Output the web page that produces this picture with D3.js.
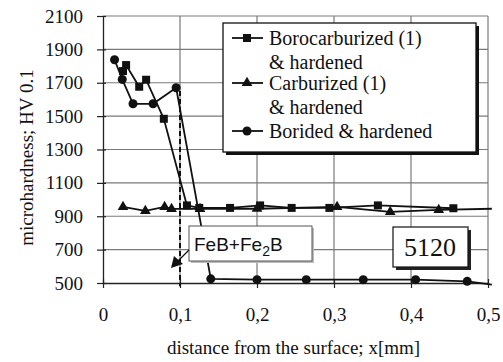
<!DOCTYPE html>
<html>
<head>
<meta charset="utf-8">
<script src="https://cdn.jsdelivr.net/npm/d3@7"></script>
<style>
  body { margin: 0; background: #fff; }
  svg text { font-family: "Liberation Serif", "Times New Roman", serif; fill: #111; }
</style>
</head>
<body>
<main></main>
<script>
// values
const xTicks = [0, 0.1, 0.2, 0.3, 0.4, 0.5];
const yTicks = [500, 700, 900, 1100, 1300, 1500, 1700, 1900, 2100];

const boroX = [0.026, 0.030, 0.047, 0.056, 0.079, 0.109, 0.125, 0.165, 0.204, 0.245, 0.294, 0.357, 0.455];
const boroY = [1770, 1806, 1676, 1718, 1484, 965, 950, 950, 965, 950, 950, 965, 948];

const carbX = [0.026, 0.055, 0.080, 0.089, 0.126, 0.200, 0.304, 0.373, 0.436, 0.505];
const carbY = [956, 932, 956, 944, 944, 945, 956, 926, 938, 945];

const boridX = [0.015, 0.025, 0.039, 0.065, 0.095, 0.140, 0.200, 0.264, 0.338, 0.406, 0.473, 0.505];
const boridY = [1838, 1720, 1574, 1574, 1670, 525, 520, 520, 520, 520, 510, 490];

const legendLabels = [["Borocarburized (1)", "& hardened"], ["Carburized (1)", "& hardened"], ["Borided & hardened"]];

const size = { width: 503, height: 362 };
const plot = { left: 103, right: 488, top: 16, bottom: 283 };
const serif = '"Liberation Serif", "Times New Roman", serif';

const svg = d3.select('main').append('svg')
    .attr('width', size.width)
    .attr('height', size.height);

const x = d3.scaleLinear().domain([0, 0.5]).range([plot.left, plot.right]);
const y = d3.scaleLinear().domain([500, 2100]).range([plot.bottom, plot.top]);

// grid
svg.append('g').selectAll('line').data(yTicks.slice(1)).enter().append('line')
    .attr('x1', plot.left).attr('x2', plot.right)
    .attr('y1', d => y(d)).attr('y2', d => y(d))
    .attr('stroke', '#7a7a7a').attr('stroke-width', 1.2);
svg.append('g').selectAll('line').data(xTicks.slice(1)).enter().append('line')
    .attr('x1', d => x(d)).attr('x2', d => x(d))
    .attr('y1', plot.top).attr('y2', plot.bottom)
    .attr('stroke', '#7a7a7a').attr('stroke-width', 1.2);

// axes
const fmt = d => d === 0 ? '0' : String(d).replace('.', ',');
const xAxis = svg.append('g')
    .attr('transform', `translate(0,${plot.bottom})`)
    .call(d3.axisBottom(x).tickValues(xTicks).tickFormat(fmt).tickSize(5).tickSizeOuter(0));
xAxis.selectAll('.tick line').attr('y1', -4);
xAxis.selectAll('text').attr('dy', null).attr('y', 38)
    .style('font-size', '19px').style('font-family', serif);

const yAxis = svg.append('g')
    .attr('transform', `translate(${plot.left},0)`)
    .call(d3.axisLeft(y).tickValues(yTicks).tickFormat(d3.format('d'))
        .tickSize(6).tickPadding(14).tickSizeOuter(0));
yAxis.selectAll('.tick line').attr('x1', 3);
yAxis.selectAll('text').style('font-size', '19px').style('font-family', serif);
svg.selectAll('.domain').attr('stroke', '#222').attr('stroke-width', 1.3);
svg.selectAll('.tick line').attr('stroke', '#222').attr('stroke-width', 1.2);

svg.append('text')
    .attr('x', (plot.left + plot.right) / 2 - 2).attr('y', 354)
    .attr('text-anchor', 'middle').style('font-size', '19px')
    .text('distance from the surface; x[mm]');
svg.append('text')
    .attr('transform', `translate(33,${(plot.top + plot.bottom) / 2 + 8}) rotate(-90)`)
    .attr('text-anchor', 'middle').style('font-size', '19px')
    .text('microhardness; HV 0.1');

// dashed boundary at 0.1 mm
svg.append('line')
    .attr('x1', x(0.1)).attr('x2', x(0.1))
    .attr('y1', y(1650)).attr('y2', y(480))
    .attr('stroke', '#111').attr('stroke-width', 2).attr('stroke-dasharray', '5,3');

// series
const series = [
    { xs: boroX, ys: boroY, sym: d3.symbolSquare, s: 64 },
    { xs: carbX, ys: carbY, sym: d3.symbolTriangle, s: 50 },
    { xs: boridX, ys: boridY, sym: d3.symbolCircle, s: 64 }
];
const line = d3.line().x(d => x(d[0])).y(d => y(d[1]));
series.forEach(sr => {
    const pts = sr.xs.map((v, i) => [v, sr.ys[i]]);
    svg.append('path').datum(pts)
        .attr('d', line).attr('fill', 'none')
        .attr('stroke', '#111').attr('stroke-width', 1.8);
    svg.append('g').selectAll('path').data(pts.filter(p => p[0] <= 0.5)).enter().append('path')
        .attr('d', d3.symbol().type(sr.sym).size(sr.s))
        .attr('transform', d => `translate(${x(d[0])},${y(d[1])})`)
        .attr('fill', '#111');
});

// legend
const lg = svg.append('g');
lg.append('rect').attr('x', 226).attr('y', 26).attr('width', 253).attr('height', 129).attr('fill', '#111');
lg.append('rect').attr('x', 223).attr('y', 23).attr('width', 253).attr('height', 129)
    .attr('fill', '#fff').attr('stroke', '#111').attr('stroke-width', 1.3);
const rowY = [38, 83, 131];
series.forEach((sr, i) => {
    lg.append('line').attr('x1', 232).attr('x2', 263).attr('y1', rowY[i]).attr('y2', rowY[i])
        .attr('stroke', '#111').attr('stroke-width', 1.8);
    lg.append('path').attr('d', d3.symbol().type(sr.sym).size(sr.s)())
        .attr('transform', `translate(247,${rowY[i]})`).attr('fill', '#111');
    legendLabels[i].forEach((t, j) => {
        lg.append('text').attr('x', 269).attr('y', rowY[i] + 7 + j * 24)
            .style('font-size', '20px').text(t);
    });
});

// FeB+Fe2B callout
const cb = svg.append('g');
cb.append('rect').attr('x', 191).attr('y', 228).attr('width', 123).attr('height', 35).attr('fill', '#bbb');
cb.append('rect').attr('x', 189).attr('y', 226).attr('width', 123).attr('height', 35)
    .attr('fill', '#fff').attr('stroke', '#555').attr('stroke-width', 1);
const ct = cb.append('text').attr('x', 194).attr('y', 251)
    .style('font-family', '"Liberation Sans", Arial, sans-serif').style('font-size', '19px');
ct.append('tspan').text('FeB+Fe');
ct.append('tspan').attr('dy', 5).style('font-size', '14px').text('2');
ct.append('tspan').attr('dy', -5).text('B');
cb.append('line').attr('x1', 189).attr('y1', 250).attr('x2', 177).attr('y2', 262)
    .attr('stroke', '#111').attr('stroke-width', 1.2);
cb.append('path').attr('d', 'M171,268 L174,256 L183,264 Z').attr('fill', '#111');

// 5120 label
const nb = svg.append('g');
nb.append('rect').attr('x', 396).attr('y', 230).attr('width', 75).attr('height', 40).attr('fill', '#222');
nb.append('rect').attr('x', 393).attr('y', 227).attr('width', 75).attr('height', 40)
    .attr('fill', '#fff').attr('stroke', '#111').attr('stroke-width', 1.2);
nb.append('text').attr('x', 430).attr('y', 256).attr('text-anchor', 'middle')
    .style('font-size', '26px').text('5120');
</script>
</body>
</html>
